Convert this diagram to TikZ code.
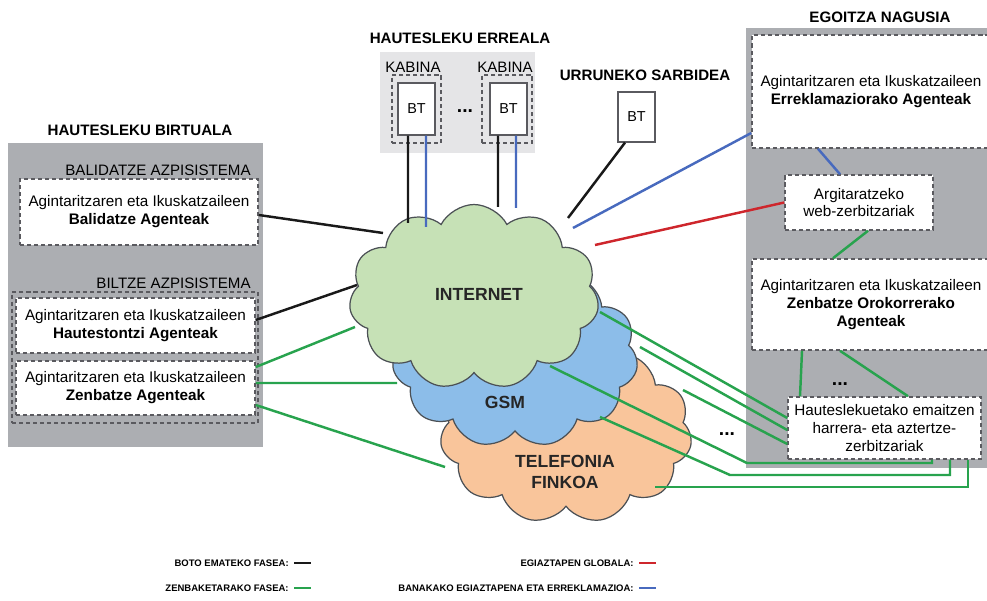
\documentclass[tikz,border=0pt]{standalone}
\usepackage{fontspec}
\setmainfont{Liberation Sans}
\usetikzlibrary{shapes.symbols,positioning}
\definecolor{panelgray}{RGB}{172,174,178}
\definecolor{lightpanel}{RGB}{229,229,231}
\definecolor{dashgray}{RGB}{90,90,95}
\definecolor{netgreen}{RGB}{198,225,182}
\definecolor{gsmblue}{RGB}{140,189,233}
\definecolor{fixorange}{RGB}{249,197,155}
\definecolor{cloudline}{RGB}{75,80,85}
\definecolor{votecol}{RGB}{25,25,25}
\definecolor{countcol}{RGB}{40,163,78}
\definecolor{globalcol}{RGB}{206,38,44}
\definecolor{indivcol}{RGB}{72,106,190}

\begin{document}
\begin{tikzpicture}[x=0.02cm,y=-0.02cm,
  heading/.style={font=\bfseries\fontsize{8.6}{10}\selectfont},
  subhead/.style={font=\fontsize{8.6}{10}\selectfont,anchor=east,inner sep=0pt},
  panel/.style={fill=panelgray,inner sep=0pt},
  box/.style={draw=dashgray,dash pattern=on 2.3pt off 1.7pt,line width=0.9pt,fill=white,
              align=center,inner sep=0pt,font=\fontsize{8.7}{10.2}\selectfont},
  groupbox/.style={box,fill=none},
  btbox/.style={draw=dashgray,line width=0.7pt,fill=white,minimum width=0.74cm,
                minimum height=1.04cm,inner sep=0pt,font=\fontsize{8.2}{10}\selectfont},
  net/.style={cloud,cloud puffs=11,cloud puff arc=125,cloud ignores aspect,
              draw=cloudline,line width=0.7pt,inner sep=0pt},
  netlabel/.style={font=\bfseries\fontsize{10}{11.5}\selectfont,align=center,text=black!85},
  ellip/.style={font=\bfseries\fontsize{11}{12}\selectfont},
  voteline/.style={draw=votecol,line width=1.4pt},
  countline/.style={draw=countcol,line width=1.4pt},
  globline/.style={draw=globalcol,line width=1.4pt},
  indivline/.style={draw=indivcol,line width=1.4pt},
  legtext/.style={font=\bfseries\fontsize{5.4}{6}\selectfont,anchor=east,inner sep=0pt},
]
\useasboundingbox (0,0) rectangle (987,601);

% Hautesleku birtuala
\node[panel,minimum width=5.1cm,minimum height=6.08cm] (birtuala) at (135.5,295) {};
\node[heading] (birtualatit) at (140,130) {HAUTESLEKU BIRTUALA};
\node[subhead] (balidatzesub) at (251,170) {BALIDATZE AZPISISTEMA};
\node[box,minimum width=4.76cm,minimum height=1.32cm] (balidatze) at (139,212)
  {Agintaritzaren eta Ikuskatzaileen\\\textbf{Balidatze Agenteak}};
\node[subhead] (biltzesub) at (251,283) {BILTZE AZPISISTEMA};
\node[groupbox,minimum width=4.92cm,minimum height=2.62cm] (biltze) at (135,357.5) {};
\node[box,minimum width=4.78cm,minimum height=1.1cm] (hautestontzi) at (135.5,325.5)
  {Agintaritzaren eta Ikuskatzaileen\\\textbf{Hautestontzi Agenteak}};
\node[box,minimum width=4.78cm,minimum height=1.08cm] (zenbatze) at (135.5,388)
  {Agintaritzaren eta Ikuskatzaileen\\\textbf{Zenbatze Agenteak}};

% Hautesleku erreala
\node[panel,fill=lightpanel,minimum width=3.1cm,minimum height=2.02cm] (erreala) at (457.5,102.5) {};
\node[heading] (errealatit) at (460,38) {HAUTESLEKU ERREALA};
\node[subhead,anchor=center] (kabinatit1) at (413,67) {KABINA};
\node[subhead,anchor=center] (kabinatit2) at (505,67) {KABINA};
\node[groupbox,minimum width=0.98cm,minimum height=1.36cm] (kabina1) at (416.5,109) {};
\node[groupbox,minimum width=1.0cm,minimum height=1.36cm] (kabina2) at (507,109) {};
\node[btbox] (bt1) at (416.5,109) {BT};
\node[btbox] (bt2) at (508.5,109) {BT};
\node[ellip] (kabinadots) at (465,111) {...};

% Urruneko sarbidea
\node[heading] (urrunekotit) at (645,75) {URRUNEKO SARBIDEA};
\node[btbox,minimum height=1.0cm] (bt3) at (636.5,117) {BT};

% Egoitza nagusia
\node[panel,minimum width=4.82cm,minimum height=8.8cm] (egoitza) at (866.5,248) {};
\node[heading] (egoitzatit) at (880,17) {EGOITZA NAGUSIA};
\node[box,minimum width=4.76cm,minimum height=2.26cm] (erreklamazio) at (871,91.5)
  {Agintaritzaren eta Ikuskatzaileen\\\textbf{Erreklamaziorako Agenteak}};
\node[box,minimum width=2.96cm,minimum height=1.1cm] (argitaratze) at (859,202.5)
  {Argitaratzeko\\web-zerbitzariak};
\node[box,minimum width=4.76cm,minimum height=1.82cm] (orokor) at (871,304.5)
  {Agintaritzaren eta Ikuskatzaileen\\\textbf{Zenbatze Orokorrerako}\\\textbf{Agenteak}};
\node[ellip] (egoitzadots) at (840,384) {...};
\node[box,minimum width=3.86cm,minimum height=1.24cm] (harrera) at (884.5,428)
  {Hauteslekuetako emaitzen\\harrera- eta aztertze-\\zerbitzariak};

% Sareak
\node[net,fill=fixorange,minimum width=5.04cm,minimum height=3.62cm] (finkoa) at (566,433) {};
\node[net,fill=gsmblue,minimum width=4.92cm,minimum height=3.66cm] (gsm) at (515,356) {};
\node[net,fill=netgreen,minimum width=5.0cm,minimum height=3.7cm] (internet) at (474,297) {};
\node[netlabel] (internettxt) at (479,294) {INTERNET};
\node[netlabel] (gsmtxt) at (505,402) {GSM};
\node[netlabel] (finkoatxt) at (565,472) {TELEFONIA\\FINKOA};
\node[ellip] (saredots) at (727,434) {...};

% cloud edge points
\coordinate (k1v) at (408,223);
\coordinate (k1i) at (426,227);
\coordinate (k2v) at (498,207);
\coordinate (k2i) at (516,208);
\coordinate (urv) at (568,218);
\coordinate (reki) at (573,228);
\coordinate (argg) at (595,245);
\coordinate (balv) at (383,233);
\coordinate (hauv) at (357,285);
\coordinate (zen1) at (355,327);
\coordinate (zen2) at (397,383);
\coordinate (zen3) at (445,467);
\coordinate (har1) at (600,312);
\coordinate (har2) at (640,347);
\coordinate (har3) at (683,390);
\coordinate (har4) at (550,366);
\coordinate (har5) at (600,417);
\coordinate (har6) at (655,487);
\coordinate (b4) at (747,463);
\coordinate (b5) at (730,475);

% Boto emateko fasea
\draw[voteline] ([xshift=-0.17cm]bt1.south) -- (k1v);
\draw[voteline] ([xshift=-0.21cm]bt2.south) -- (k2v);
\draw[voteline] ([xshift=-0.23cm]bt3.south) -- (urv);
\draw[voteline] ([yshift=-0.06cm]balidatze.east) -- (balv);
\draw[voteline] ([yshift=0.11cm]hautestontzi.east) -- (hauv);

% Banakako egiaztapena
\draw[indivline] ([xshift=0.19cm]bt1.south) -- (k1i);
\draw[indivline] ([xshift=0.15cm]bt2.south) -- (k2i);
\draw[indivline] (reki) -- ([yshift=-0.83cm]erreklamazio.west);
\draw[indivline] ([xshift=-1.06cm]erreklamazio.south) -- ([xshift=-0.38cm]argitaratze.north);

% Egiaztapen globala
\draw[globline] (argg) -- (argitaratze.west);

% Zenbaketarako fasea
\draw[countline] ([yshift=0.42cm]zenbatze.east) -- (zen1);
\draw[countline] ([yshift=0.1cm]zenbatze.east) -- (zen2);
\draw[countline] ([yshift=-0.34cm]zenbatze.east) -- (zen3);
\draw[countline] ([xshift=0.18cm]argitaratze.south) -- ([xshift=-0.76cm]orokor.north);
\draw[countline] ([xshift=-1.38cm]orokor.south) -- ([xshift=-1.69cm]harrera.north);
\draw[countline] ([xshift=-0.62cm]orokor.south) -- ([xshift=0.47cm]harrera.north);
\draw[countline] (har1) -- ([yshift=0.2cm]harrera.west);
\draw[countline] (har2) -- ([yshift=-0.04cm]harrera.west);
\draw[countline] (har3) -- ([yshift=-0.32cm]harrera.west);
\draw[countline] (har4) -- (b4) -| ([xshift=0.95cm]harrera.south);
\draw[countline] (har5) -- (b5) -| ([xshift=1.31cm]harrera.south);
\draw[countline] (har6) -| ([xshift=1.67cm]harrera.south);

% Legenda
\node[legtext] (bototxt) at (289,563) {BOTO EMATEKO FASEA:};
\node[legtext] (zenbtxt) at (289,588) {ZENBAKETARAKO FASEA:};
\node[legtext] (globtxt) at (634,563) {EGIAZTAPEN GLOBALA:};
\node[legtext] (banatxt) at (634,588) {BANAKAKO EGIAZTAPENA ETA ERREKLAMAZIOA:};
\draw[voteline] ([xshift=0.1cm]bototxt.east) -- ++(17,0);
\draw[countline] ([xshift=0.1cm]zenbtxt.east) -- ++(17,0);
\draw[globline] ([xshift=0.1cm]globtxt.east) -- ++(17,0);
\draw[indivline] ([xshift=0.1cm]banatxt.east) -- ++(17,0);
\end{tikzpicture}
\end{document}
